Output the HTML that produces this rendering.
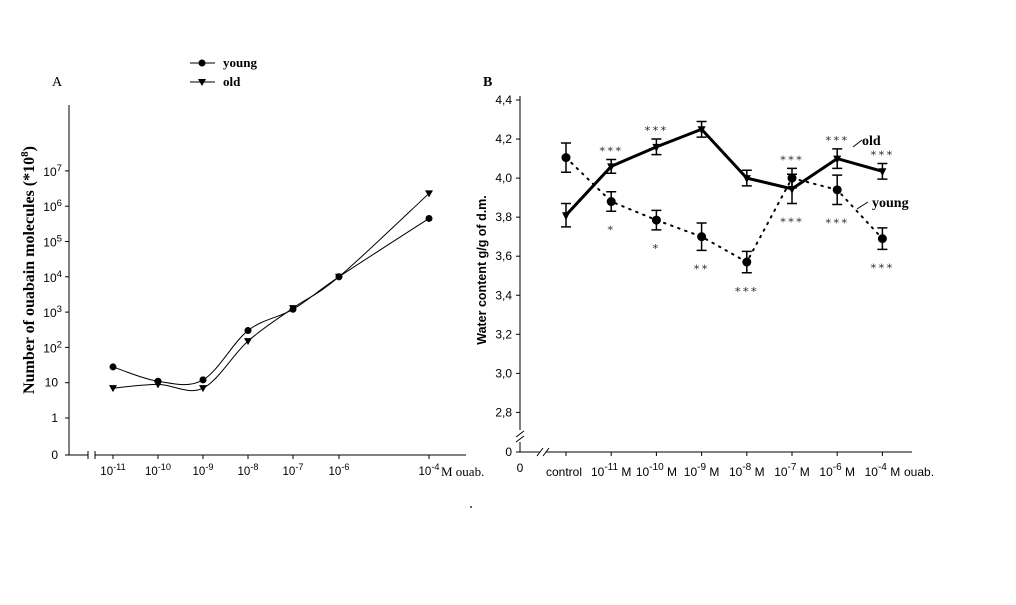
<!DOCTYPE html>
<html><head><meta charset="utf-8"><style>
body{margin:0;background:#fff}
svg{display:block}
.s{font-family:"Liberation Sans",sans-serif}
.r{font-family:"Liberation Serif",serif}
</style></head><body>
<svg width="1016" height="605" viewBox="0 0 1016 605" xmlns="http://www.w3.org/2000/svg">
<g id="A"></g>
<g id="B"></g>
<circle cx="471" cy="507" r="1" fill="#333"/>
</svg>
<script>
// Panel A data
const catsA = ["-11","-10","-9","-8","-7","-6","-4"];
const youngA = [28, 11, 12, 300, 1200, 10000, 450000];
const oldA = [7, 9, 7, 150, 1300, 10000, 2300000];
const ticksA = [1,2,3,4,5,6,7];
// Panel B data
const catsB = ["control","-11","-10","-9","-8","-7","-6","-4"];
const oldB = [3.81,4.06,4.16,4.25,4.00,3.945,4.10,4.035];
const oldErr = [0.06,0.035,0.04,0.04,0.04,0.075,0.05,0.04];
const youngB = [4.105,3.88,3.785,3.70,3.57,4.0,3.94,3.69];
const youngErr = [0.075,0.05,0.05,0.07,0.055,0.05,0.075,0.055];
const starsAbove = ["","***","***","","","***","***","***"];
const starsBelow = ["","*","*","**","***","***","***","***"];
const ticksB = [2.8,3.0,3.2,3.4,3.6,3.8,4.0,4.2,4.4];

const NS="http://www.w3.org/2000/svg";
function mk(p,tag,at,txt){const e=document.createElementNS(NS,tag);for(const k in at)e.setAttribute(k,at[k]);if(txt!=null)e.textContent=txt;p.appendChild(e);return e;}
function sup(p,x,y,base,exp,size,anchor,cls){const t=mk(p,'text',{x:x,y:y,'font-size':size,'text-anchor':anchor||'middle',class:cls||'s'});
 const a=document.createElementNS(NS,'tspan');a.textContent=base;t.appendChild(a);
 const b=document.createElementNS(NS,'tspan');b.setAttribute('dy',-5);b.setAttribute('font-size',size*0.8);b.textContent=exp;t.appendChild(b);return t;}
function spline(pts){let d="M"+pts[0][0]+","+pts[0][1];
 for(let i=0;i<pts.length-1;i++){const p0=pts[Math.max(0,i-1)],p1=pts[i],p2=pts[i+1],p3=pts[Math.min(pts.length-1,i+2)];
 const c1=[p1[0]+(p2[0]-p0[0])/6,p1[1]+(p2[1]-p0[1])/6],c2=[p2[0]-(p3[0]-p1[0])/6,p2[1]-(p3[1]-p1[1])/6];
 d+=" C"+c1+" "+c2+" "+p2;}return d;}

// ---- Panel A ----
const A=document.getElementById('A');
const xA=[113,158,203,248,293,339,429];
const yA=v=>418-35.3*Math.log10(v);
mk(A,'line',{x1:69,y1:105,x2:69,y2:455,stroke:'#000'});
mk(A,'path',{d:"M69,455H88M95,455H466M88,451V459M95,451V459",stroke:'#000',fill:'none'});
let t=mk(A,'text',{x:58,y:459,'font-size':12,'text-anchor':'end',class:'s'},"0");

mk(A,'line',{x1:65,y1:455,x2:69,y2:455,stroke:'#000'});
mk(A,'line',{x1:65,y1:418,x2:69,y2:418,stroke:'#000'});
mk(A,'text',{x:58,y:422,'font-size':12,'text-anchor':'end',class:'s'},"1");
mk(A,'line',{x1:65,y1:yA(10),x2:69,y2:yA(10),stroke:'#000'});
mk(A,'text',{x:58,y:yA(10)+4,'font-size':12,'text-anchor':'end',class:'s'},"10");
ticksA.slice(1).forEach(k=>{const y=yA(Math.pow(10,k));
 mk(A,'line',{x1:65,y1:y,x2:69,y2:y,stroke:'#000'});
 const e=sup(A,62,y+5,"10",String(k),12,'end');
 });
catsA.forEach((c,i)=>{mk(A,'line',{x1:xA[i],y1:455,x2:xA[i],y2:459,stroke:'#000'});
 const e=sup(A,xA[i],475,"10",c,11.5,'middle');
 });
mk(A,'text',{x:441,y:476,'font-size':13,class:'r'},"M ouab.");
function seriesA(vals,marker,name){
 const pts=vals.map((v,i)=>[xA[i],yA(v)]);
 const p=mk(A,'path',{d:spline(pts),stroke:'#000',fill:'none','stroke-width':1});
 
 pts.forEach(q=>{let m;
  if(marker==='c')m=mk(A,'circle',{cx:q[0],cy:q[1],r:3.5,fill:'#000'});
  else m=mk(A,'path',{d:`M${q[0]-4},${q[1]-3}H${q[0]+4}L${q[0]},${q[1]+4}Z`,fill:'#000'});
  });}
seriesA(youngA,'c','young');
seriesA(oldA,'t','old');
const tA=mk(A,'text',{transform:'translate(34,270) rotate(-90)','font-size':16,'font-weight':'bold','text-anchor':'middle',class:'r'});

tA.innerHTML='Number of ouabain molecules (*10<tspan dy="-6" font-size="11">8</tspan><tspan dy="6">)</tspan>';
mk(A,'text',{x:52,y:86,'font-size':14,class:'r'},"A");
const lg=mk(A,'g',{});
mk(lg,'line',{x1:190,y1:63,x2:215,y2:63,stroke:'#000'});mk(lg,'circle',{cx:202,cy:63,r:3.5,fill:'#000'});
mk(lg,'text',{x:223,y:67,'font-size':13,'font-weight':'bold',class:'r'},"young");
mk(lg,'line',{x1:190,y1:82,x2:215,y2:82,stroke:'#000'});mk(lg,'path',{d:"M198,79H206L202,86Z",fill:'#000'});
mk(lg,'text',{x:223,y:86,'font-size':13,'font-weight':'bold',class:'r'},"old");

// ---- Panel B ----
const B=document.getElementById('B');
const xB=i=>566+45.2*i;
const yB=v=>100+(4.4-v)/0.2*39.05;
mk(B,'path',{d:"M520,96V430M516,437L524,431M516,442L524,436M520,442V452H540M546,452H912M537,456L543,448M543,456L549,448",stroke:'#000',fill:'none'});
ticksB.forEach(v=>{const y=yB(v);mk(B,'line',{x1:516,y1:y,x2:520,y2:y,stroke:'#000'});
 const e=mk(B,'text',{x:512,y:y+4,'font-size':12,'text-anchor':'end',class:'s'},v.toFixed(1).replace('.',','));
 });
mk(B,'line',{x1:516,y1:452,x2:520,y2:452,stroke:'#000'});
mk(B,'text',{x:512,y:456,'font-size':12,'text-anchor':'end',class:'s'},"0");
mk(B,'text',{x:520,y:472,'font-size':12,'text-anchor':'middle',class:'s'},"0");
catsB.forEach((c,i)=>{const x=xB(i);mk(B,'line',{x1:x,y1:452,x2:x,y2:456,stroke:'#000'});
 let e;
 if(c==='control')e=mk(B,'text',{x:x-2,y:476,'font-size':12,'text-anchor':'middle',class:'s'},"control");
 else{e=mk(B,'text',{x:x,y:476,'font-size':12,'text-anchor':'middle',class:'s'});
  e.innerHTML='10<tspan dy="-6" font-size="10">'+c+'</tspan><tspan dy="6"> M</tspan>';}
 });
mk(B,'text',{x:904,y:476,'font-size':12,class:'s'},"ouab.");
function errs(vals,er,name){vals.forEach((v,i)=>{const x=xB(i),a=yB(v+er[i]),b=yB(v-er[i]);
 const e=mk(B,'path',{d:`M${x},${a}V${b}M${x-5},${a}H${x+5}M${x-5},${b}H${x+5}`,stroke:'#000','stroke-width':1.5,fill:'none'});
 });}
errs(youngB,youngErr,'young');errs(oldB,oldErr,'old');
const yl=mk(B,'path',{d:"M"+youngB.map((v,i)=>xB(i)+","+yB(v)).join("L"),stroke:'#000','stroke-width':2,'stroke-dasharray':'1.5 6','stroke-linecap':'round',fill:'none'});

const ol=mk(B,'path',{d:"M"+oldB.map((v,i)=>xB(i)+","+yB(v)).join("L"),stroke:'#000','stroke-width':3,fill:'none'});

youngB.forEach((v,i)=>{const e=mk(B,'circle',{cx:xB(i),cy:yB(v),r:4.5,fill:'#000'});
 });
oldB.forEach((v,i)=>{const x=xB(i),y=yB(v);const e=mk(B,'path',{d:`M${x-4},${y-3}H${x+4}L${x},${y+5}Z`,fill:'#000'});
 });
catsB.forEach((c,i)=>{const top=Math.max(oldB[i]+oldErr[i],youngB[i]+youngErr[i]);
 const bot=Math.min(oldB[i]-oldErr[i],youngB[i]-youngErr[i]);
 if(starsAbove[i]){const e=mk(B,'text',{x:xB(i),y:yB(top)-8,'font-size':12,'text-anchor':'middle','letter-spacing':'2',fill:'#333',class:'s'},starsAbove[i].replace(/\*/g,'⁎'));
  }
 if(starsBelow[i]){const e=mk(B,'text',{x:xB(i),y:yB(bot)+19,'font-size':12,'text-anchor':'middle','letter-spacing':'2',fill:'#333',class:'s'},starsBelow[i].replace(/\*/g,'⁎'));
  }});
const tB=mk(B,'text',{transform:'translate(486,270) rotate(-90)','font-size':12.5,'font-weight':'bold','text-anchor':'middle',class:'s'},"Water content g/g of d.m.");

mk(B,'text',{x:483,y:86,'font-size':14,'font-weight':'bold',class:'r'},"B");
mk(B,'text',{x:862,y:145,'font-size':14,'font-weight':'bold',class:'r'},"old");
mk(B,'line',{x1:853,y1:147,x2:862,y2:140,stroke:'#000'});
mk(B,'text',{x:872,y:207,'font-size':14,'font-weight':'bold',class:'r'},"young");
mk(B,'line',{x1:857,y1:209,x2:868,y2:202,stroke:'#000'});
</script>
</body></html>
